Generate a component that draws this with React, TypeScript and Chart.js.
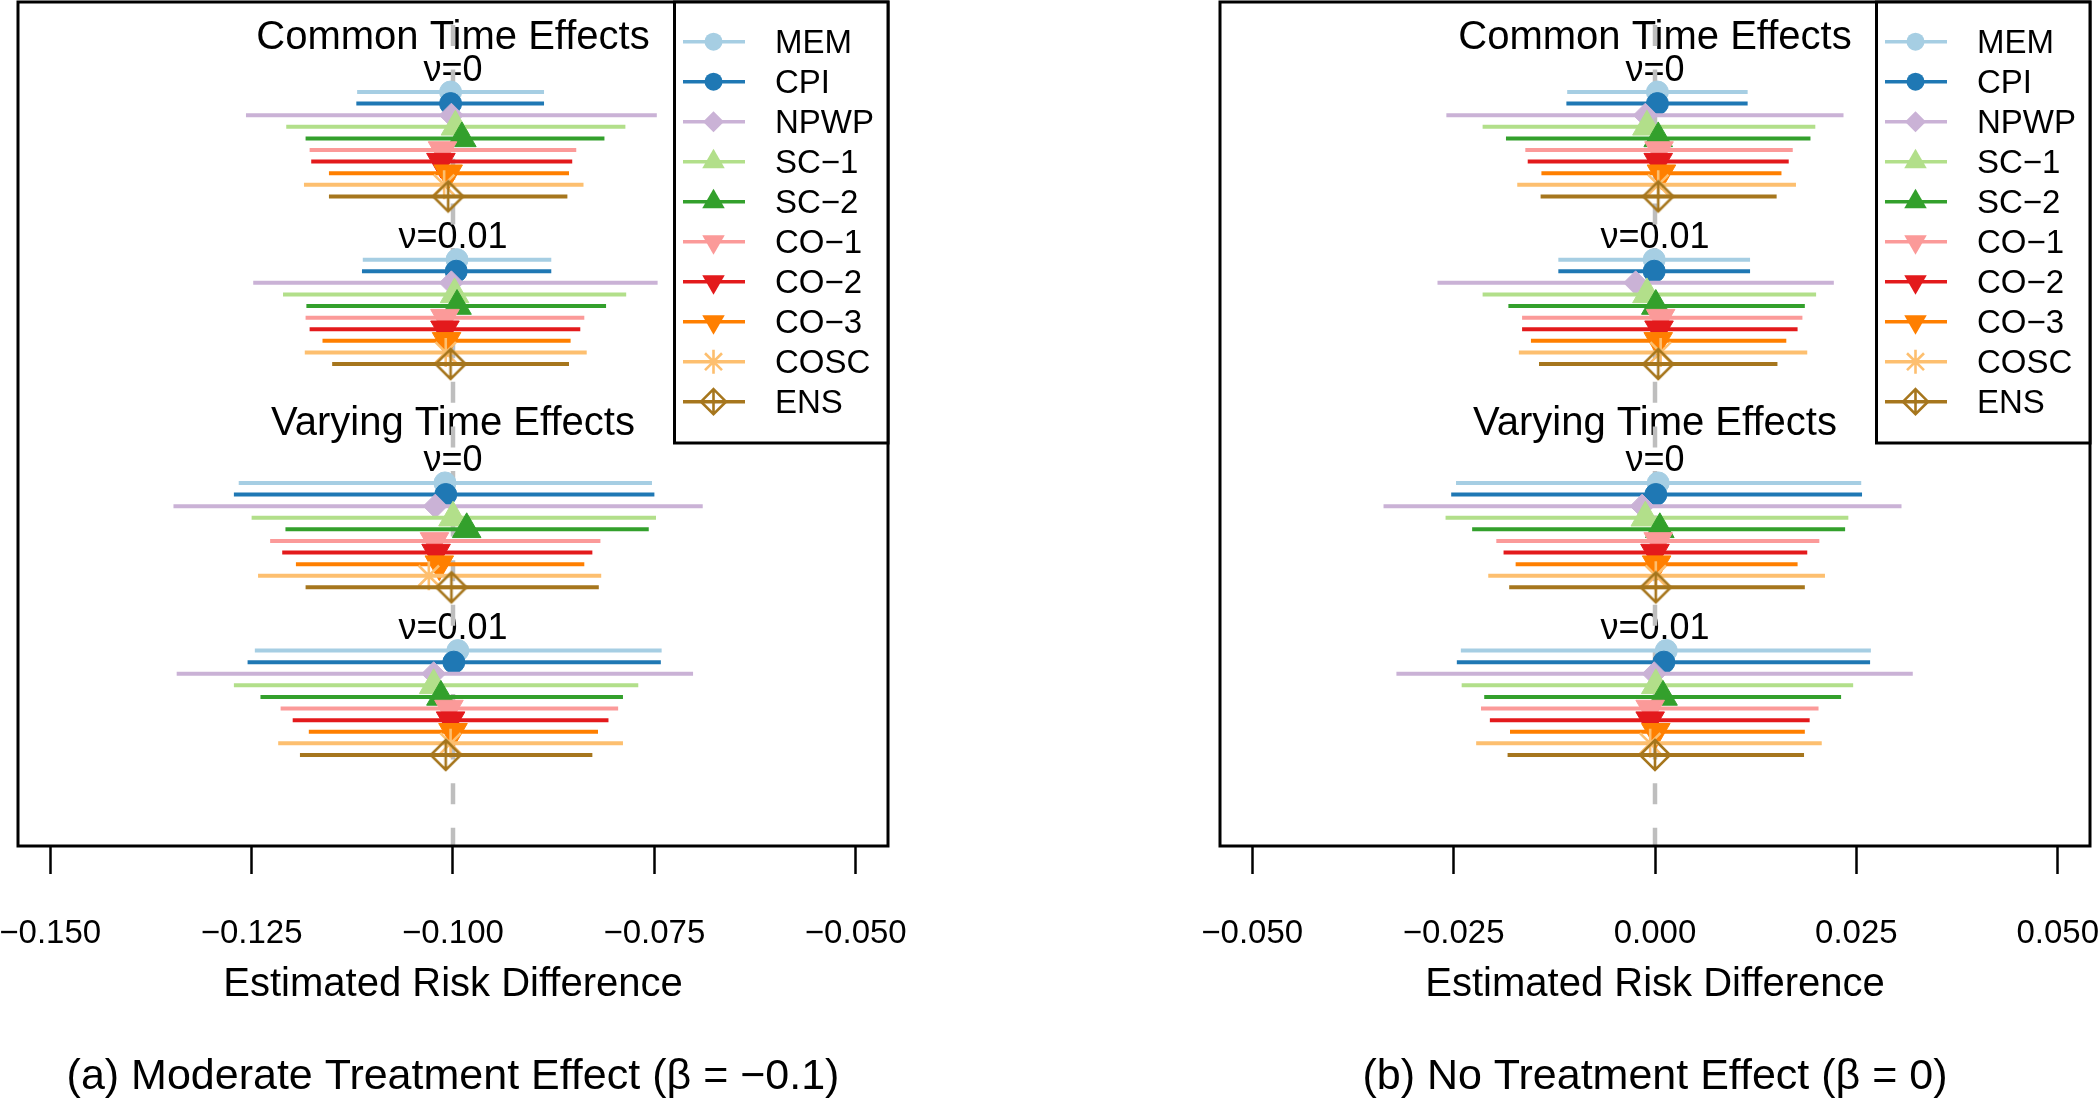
import React, { useEffect, useRef } from "react";
import { Chart, registerables } from "chart.js";

Chart.register(...registerables);

// ---------- data ----------
const METHODS = ["MEM", "CPI", "NPWP", "SC\u22121", "SC\u22122", "CO\u22121", "CO\u22122", "CO\u22123", "COSC", "ENS"];
const COLORS = ["#A6CEE3", "#1F78B4", "#CAB2D6", "#B2DF8A", "#33A02C", "#FB9A99", "#E31A1C", "#FF7F00", "#FDBF6F", "#A6761D"];
const SHAPES = ["circle", "circle", "diamond", "triUp", "triUp", "triDown", "triDown", "triDown", "asterisk", "diamondPlus"];

// groups: Common v=0, Common v=0.01, Varying v=0, Varying v=0.01
const EST_A = [
  [-0.1003, -0.1003, -0.1002, -0.0997, -0.0989, -0.1013, -0.1015, -0.1006, -0.1011, -0.1006],
  [-0.0995, -0.0996, -0.1002, -0.0998, -0.0995, -0.1010, -0.1010, -0.1008, -0.1009, -0.1003],
  [-0.1010, -0.1009, -0.1022, -0.1000, -0.0983, -0.1023, -0.1021, -0.1017, -0.1030, -0.1002],
  [-0.0994, -0.0999, -0.1024, -0.1024, -0.1015, -0.1005, -0.1003, -0.1000, -0.1003, -0.1009],
];
const LO_A = [
  [-0.1119, -0.1120, -0.1257, -0.1207, -0.1183, -0.1178, -0.1176, -0.1154, -0.1185, -0.1154],
  [-0.1112, -0.1113, -0.1248, -0.1211, -0.1182, -0.1183, -0.1178, -0.1162, -0.1184, -0.1150],
  [-0.1266, -0.1272, -0.1347, -0.1250, -0.1208, -0.1227, -0.1212, -0.1195, -0.1242, -0.1183],
  [-0.1246, -0.1255, -0.1343, -0.1272, -0.1239, -0.1214, -0.1199, -0.1179, -0.1217, -0.1190],
];
const HI_A = [
  [-0.0887, -0.0887, -0.0747, -0.0786, -0.0812, -0.0847, -0.0852, -0.0856, -0.0838, -0.0858],
  [-0.0878, -0.0878, -0.0746, -0.0785, -0.0810, -0.0837, -0.0842, -0.0854, -0.0834, -0.0856],
  [-0.0753, -0.0750, -0.0690, -0.0748, -0.0757, -0.0817, -0.0827, -0.0837, -0.0816, -0.0819],
  [-0.0741, -0.0742, -0.0702, -0.0770, -0.0789, -0.0795, -0.0807, -0.0820, -0.0789, -0.0827],
];

const EST_B = [
  [0.0003, 0.0003, -0.0012, -0.0010, 0.0004, 0.0005, 0.0004, 0.0008, 0.0004, 0.0004],
  [-0.0001, -0.0001, -0.0024, -0.0010, 0.0001, 0.0007, 0.0005, 0.0004, 0.0007, 0.0004],
  [0.0004, 0.0001, -0.0016, -0.0012, 0.0006, 0.0004, 0.0000, 0.0002, 0.0001, 0.0001],
  [0.0014, 0.0011, -0.0001, 0.0001, 0.0010, -0.0006, -0.0006, 0.0001, -0.0006, 0.0000],
];
const LO_B = [
  [-0.0109, -0.0110, -0.0259, -0.0214, -0.0185, -0.0161, -0.0158, -0.0141, -0.0171, -0.0142],
  [-0.0120, -0.0120, -0.0270, -0.0214, -0.0182, -0.0165, -0.0165, -0.0154, -0.0169, -0.0144],
  [-0.0247, -0.0253, -0.0337, -0.0260, -0.0227, -0.0197, -0.0188, -0.0173, -0.0207, -0.0181],
  [-0.0241, -0.0246, -0.0321, -0.0240, -0.0212, -0.0216, -0.0205, -0.0180, -0.0222, -0.0183],
];
const HI_B = [
  [0.0115, 0.0115, 0.0234, 0.0199, 0.0193, 0.0171, 0.0166, 0.0157, 0.0175, 0.0151],
  [0.0118, 0.0118, 0.0222, 0.0200, 0.0186, 0.0183, 0.0177, 0.0163, 0.0189, 0.0152],
  [0.0256, 0.0257, 0.0306, 0.0240, 0.0236, 0.0204, 0.0189, 0.0177, 0.0211, 0.0186],
  [0.0268, 0.0267, 0.0320, 0.0246, 0.0231, 0.0203, 0.0192, 0.0186, 0.0207, 0.0185],
];

const X_TICKS_A = [-0.15, -0.125, -0.1, -0.075, -0.05];
const X_TICKS_B = [-0.05, -0.025, 0, 0.025, 0.05];
const X_RANGE_A = [-0.154, -0.046];
const X_RANGE_B = [-0.054, 0.054];
const REF_A = -0.1;
const REF_B = 0;

// row positions (row units, top to bottom)
const GROUP_OFFSETS = [0, 14.45, 33.7, 48.15];
const Y_RANGE = [-7.76, 65.0];
const SECTION_TITLES = [
  { text: "Common Time Effects", y: -3.71 },
  { text: "Varying Time Effects", y: 29.57 },
];
const NU_LABELS = [
  { text: "\u03BD=0", y: -0.95 },
  { text: "\u03BD=0.01", y: 13.41 },
  { text: "\u03BD=0", y: 32.67 },
  { text: "\u03BD=0.01", y: 47.16 },
];
const AXIS_TITLE = "Estimated Risk Difference";
const CAPTION_A = "(a) Moderate Treatment Effect (\u03B2 = \u22120.1)";
const CAPTION_B = "(b) No Treatment Effect (\u03B2 = 0)";

// ---------- styling ----------
const FONT = "'Liberation Sans', Arial, Helvetica, sans-serif";
const PLOT_SIZE: Record<string, number> = { circle: 11, diamond: 12, triUp: 16.5, triDown: 16.5, asterisk: 14.5, diamondPlus: 15 };
const LEG_SIZE: Record<string, number> = { circle: 9, diamond: 10.5, triUp: 13, triDown: 13, asterisk: 12, diamondPlus: 12.5 };

function drawMarker(ctx: CanvasRenderingContext2D, shape: string, x: number, y: number, r: number, color: string) {
  ctx.save();
  ctx.fillStyle = color;
  ctx.strokeStyle = color;
  ctx.lineWidth = 2.6;
  ctx.beginPath();
  const h = (r * Math.sqrt(3)) / 2;
  switch (shape) {
    case "circle":
      ctx.arc(x, y, r, 0, Math.PI * 2);
      ctx.fill();
      break;
    case "diamond":
      ctx.moveTo(x, y - r);
      ctx.lineTo(x + r, y);
      ctx.lineTo(x, y + r);
      ctx.lineTo(x - r, y);
      ctx.closePath();
      ctx.fill();
      break;
    case "triUp":
      ctx.moveTo(x, y - r);
      ctx.lineTo(x + h, y + r / 2);
      ctx.lineTo(x - h, y + r / 2);
      ctx.closePath();
      ctx.fill();
      break;
    case "triDown":
      ctx.moveTo(x, y + r);
      ctx.lineTo(x + h, y - r / 2);
      ctx.lineTo(x - h, y - r / 2);
      ctx.closePath();
      ctx.fill();
      break;
    case "asterisk": {
      const d = r * Math.SQRT1_2;
      ctx.moveTo(x - r, y); ctx.lineTo(x + r, y);
      ctx.moveTo(x, y - r); ctx.lineTo(x, y + r);
      ctx.moveTo(x - d, y - d); ctx.lineTo(x + d, y + d);
      ctx.moveTo(x - d, y + d); ctx.lineTo(x + d, y - d);
      ctx.stroke();
      break;
    }
    case "diamondPlus":
      ctx.moveTo(x, y - r);
      ctx.lineTo(x + r, y);
      ctx.lineTo(x, y + r);
      ctx.lineTo(x - r, y);
      ctx.closePath();
      ctx.moveTo(x - r, y); ctx.lineTo(x + r, y);
      ctx.moveTo(x, y - r); ctx.lineTo(x, y + r);
      ctx.stroke();
      break;
  }
  ctx.restore();
}

function makeImage(shape: string, r: number, color: string) {
  const c = document.createElement("canvas");
  const s = Math.ceil(2 * r + 6);
  c.width = s;
  c.height = s;
  const ctx = c.getContext("2d") as CanvasRenderingContext2D;
  drawMarker(ctx, shape, s / 2, s / 2, r, color);
  return c;
}

function fmt(v: number) {
  const s = Math.abs(v).toFixed(3);
  return v < -1e-9 ? "\u2212" + s : s;
}

function buildConfig(est: number[][], lo: number[][], hi: number[][], ticks: number[], range: number[], refVal: number, caption: string, padL: number, padR: number) {
  const datasets: any[] = [];
  datasets.push({
    data: [{ x: refVal, y: Y_RANGE[0] }, { x: refVal, y: Y_RANGE[1] }],
    borderColor: "#BEBEBE",
    borderWidth: 4.5,
    borderDash: [21, 23.6],
    borderDashOffset: 21.6,
    pointRadius: 0,
    order: 100000,
  });
  let k = 0;
  for (let g = 0; g < est.length; g++) {
    for (let m = 0; m < METHODS.length; m++) {
      const y = GROUP_OFFSETS[g] + m;
      const shape = SHAPES[m];
      const color = COLORS[m];
      let style: any = "circle";
      let rot = 0;
      let fill = color;
      let bw = 1;
      if (shape === "diamond") style = "rectRot";
      else if (shape === "triUp") style = "triangle";
      else if (shape === "triDown") { style = "triangle"; rot = 180; }
      else if (shape === "asterisk") { style = "star"; bw = 2.6; fill = "rgba(0,0,0,0)"; }
      else if (shape === "diamondPlus") style = makeImage("diamondPlus", PLOT_SIZE.diamondPlus, color);
      const r = PLOT_SIZE[shape];
      datasets.push({
        label: METHODS[m],
        data: [{ x: lo[g][m], y }, { x: est[g][m], y }, { x: hi[g][m], y }],
        borderColor: color,
        borderWidth: 4,
        borderCapStyle: "butt",
        pointRadius: [0, r, 0],
        pointHoverRadius: [0, r, 0],
        pointStyle: style,
        pointRotation: rot,
        pointBackgroundColor: fill,
        pointBorderColor: color,
        pointBorderWidth: bw,
        order: 90000 - k,
      });
      k++;
    }
  }

  const overlay = {
    id: "overlay",
    beforeDatasetsDraw(chart: any) {
      const ctx = chart.ctx as CanvasRenderingContext2D;
      const xs = chart.scales.x;
      const ys = chart.scales.y;
      const cx = xs.getPixelForValue(refVal);
      ctx.save();
      ctx.fillStyle = "#000";
      ctx.textAlign = "center";
      ctx.textBaseline = "alphabetic";
      ctx.font = `40px ${FONT}`;
      SECTION_TITLES.forEach((t) => ctx.fillText(t.text, cx, ys.getPixelForValue(t.y)));
      ctx.font = `36px ${FONT}`;
      NU_LABELS.forEach((t) => ctx.fillText(t.text, cx, ys.getPixelForValue(t.y)));
      ctx.restore();
    },
    afterDraw(chart: any) {
      const ctx = chart.ctx as CanvasRenderingContext2D;
      const ca = chart.chartArea;
      const xs = chart.scales.x;
      ctx.save();
      // plot box
      ctx.strokeStyle = "#000";
      ctx.lineWidth = 3;
      ctx.strokeRect(ca.left, ca.top, ca.right - ca.left, ca.bottom - ca.top);
      // legend
      const lx0 = ca.right - 213.5;
      const ly1 = 443;
      ctx.fillStyle = "#fff";
      ctx.fillRect(lx0, ca.top, ca.right - lx0, ly1 - ca.top);
      ctx.strokeRect(lx0, ca.top, ca.right - lx0, ly1 - ca.top);
      for (let i = 0; i < METHODS.length; i++) {
        const cy = 41.7 + 40 * i;
        ctx.strokeStyle = COLORS[i];
        ctx.lineWidth = 3.5;
        ctx.beginPath();
        ctx.moveTo(ca.right - 205, cy);
        ctx.lineTo(ca.right - 143, cy);
        ctx.stroke();
        drawMarker(ctx, SHAPES[i], ca.right - 174.5, cy, LEG_SIZE[SHAPES[i]], COLORS[i]);
        ctx.fillStyle = "#000";
        ctx.font = `33px ${FONT}`;
        ctx.textAlign = "left";
        ctx.textBaseline = "alphabetic";
        ctx.fillText(METHODS[i], ca.right - 113, cy + 11.7);
      }
      // tick labels
      ctx.fillStyle = "#000";
      ctx.textAlign = "center";
      ctx.font = `33px ${FONT}`;
      xs.ticks.forEach((t: any) => {
        ctx.fillText(fmt(t.value), xs.getPixelForValue(t.value), ca.bottom + 96.5);
      });
      const mid = (ca.left + ca.right) / 2;
      ctx.font = `40px ${FONT}`;
      ctx.fillText(AXIS_TITLE, mid, ca.bottom + 150);
      ctx.font = `43px ${FONT}`;
      ctx.fillText(caption, mid, ca.bottom + 243);
      ctx.restore();
    },
  };

  return {
    type: "line",
    data: { datasets },
    options: {
      animation: false,
      responsive: false,
      devicePixelRatio: 1,
      events: [],
      layout: { padding: { left: padL, right: padR, top: 2, bottom: 0 } },
      plugins: { legend: { display: false }, tooltip: { enabled: false }, title: { display: false } },
      scales: {
        x: {
          type: "linear",
          position: "bottom",
          min: range[0],
          max: range[1],
          afterBuildTicks: (scale: any) => {
            scale.ticks = ticks.map((v) => ({ value: v }));
          },
          afterFit: (scale: any) => {
            scale.height = 257;
          },
          ticks: { display: false },
          grid: { display: true, drawOnChartArea: false, drawTicks: true, tickLength: 28, tickWidth: 2.5, tickColor: "#000" },
          border: { display: false },
        },
        y: {
          type: "linear",
          display: false,
          min: Y_RANGE[0],
          max: Y_RANGE[1],
          reverse: true,
        },
      },
    },
    plugins: [overlay],
  };
}

function Panel(props: any) {
  const ref = useRef<HTMLCanvasElement>(null);
  useEffect(() => {
    const cfg: any = buildConfig(props.est, props.lo, props.hi, props.ticks, props.range, props.refVal, props.caption, props.padL, props.padR);
    const chart = new Chart(ref.current as HTMLCanvasElement, cfg);
    return () => chart.destroy();
  }, []);
  return (
    <canvas
      ref={ref}
      width={1050}
      height={1103}
      style={{ position: "absolute", left: props.left, top: 0, width: 1050, height: 1103 }}
    />
  );
}

export default function App() {
  return (
    <div style={{ position: "fixed", left: 0, top: 0, width: 2100, height: 1103, background: "#fff", overflow: "hidden" }}>
      <Panel left={0} est={EST_A} lo={LO_A} hi={HI_A} ticks={X_TICKS_A} range={X_RANGE_A} refVal={REF_A} caption={CAPTION_A} padL={18} padR={162} />
      <Panel left={1050} est={EST_B} lo={LO_B} hi={HI_B} ticks={X_TICKS_B} range={X_RANGE_B} refVal={REF_B} caption={CAPTION_B} padL={170} padR={10} />
    </div>
  );
}
